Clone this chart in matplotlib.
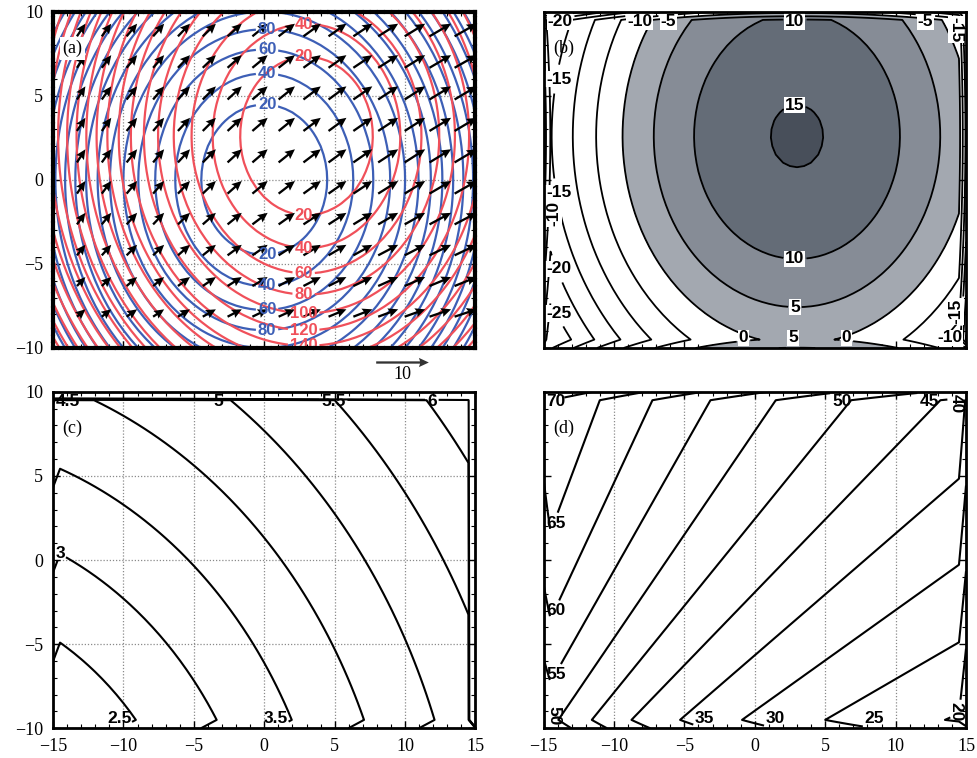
import numpy as np
import matplotlib
matplotlib.use("Agg")
import matplotlib.pyplot as plt
from matplotlib.ticker import MultipleLocator

SERIF = ['Liberation Serif', 'DejaVu Serif']
SANS = ['Liberation Sans', 'DejaVu Sans']
plt.rcParams['font.family'] = SERIF
plt.rcParams['contour.negative_linestyle'] = 'solid'

# model grid, 0.5 spacing, boundary rows/cols included
xg = np.arange(-15.0, 15.01, 0.5)
yg = np.arange(-10.0, 10.01, 0.5)
X, Y = np.meshgrid(xg, yg)

# ---- (a) two bowls and the wind ------------------------------------------
blue_centre = (0.0, 0.0)
blue_coef = 1.0
red_centre = (3.0, 2.6)
red_coef = 0.9
blue_levels = list(range(20, 340, 20))
red_levels = list(range(20, 460, 20))
blue_labels = [(80, 0.2, 8.95), (60, 0.2, 7.74), (40, 0.2, 6.37), (20, 0.2, 4.46),
               (20, 0.2, -4.46), (40, 0.2, -6.37), (60, 0.2, -7.74), (80, 0.2, -8.95)]
red_labels = [(40, 2.8, 9.3), (20, 2.8, 7.3), (20, 2.8, -2.1), (40, 2.8, -4.0),
              (60, 2.8, -5.5), (80, 2.8, -6.7), (100, 2.8, -7.9), (120, 2.8, -8.9),
              (140, 2.8, -9.75)]

wind_x = [-13.0, -11.2, -9.4, -7.5, -5.7, -3.9, -2.1, -0.3,
          1.6, 3.4, 5.2, 7.0, 8.8, 10.7, 12.5, 14.3]
wind_y = [8.9, 7.03, 5.16, 3.29, 1.42, -0.45, -2.31, -4.18, -6.05, -7.92]
wind_u = [1.6, 1.8, 2.0, 2.1, 2.3, 2.5, 2.7, 2.9, 3.1, 3.3, 3.4, 3.6, 3.8, 3.9, 4.1, 4.2]
wind_v = [2.4, 2.4, 2.5, 2.5, 2.5, 2.4, 2.2, 2.0, 1.7, 1.4]
ref_speed = 10

# ---- (b) shaded dome -------------------------------------------------------
b_centre = (3.0, 2.6)
b_peak = 15.35
b_coef = 0.1
b_edge = {'left': 10.0, 'right': -12.0, 'bottom': 5.7, 'top': -12.0}
b_levels = [-30, -25, -20, -15, -10, -5, 0, 5, 10, 15]
b_fill = [0, 5, 10, 15, 30]
b_colors = ['#a3a8b0', '#868c96', '#646c77', '#484f5a']
b_labels = [(15, 2.85, 4.36), (10, 2.85, -4.63), (5, 2.85, -7.6), (10, 2.85, 9.45),
            (0, -0.8, -9.6), (5, 2.7, -9.6), (0, 6.5, -9.6),
            (-10, -8.14, 9.6), (-5, -6.13, 9.6), (-5, 12.1, 9.6),
            (-20, -13.8, 9.45), (-15, -14.2, 6.0), (-15, -14.2, -0.8),
            (-10, -14.6, -2.0, 90), (-20, -14.2, -5.35), (-25, -14.2, -8.0),
            (-15, 14.6, 8.9, -90), (-15, 14.6, -7.8, 90), (-10, 13.85, -9.6)]

# ---- (c) rings about a far point ------------------------------------------
c_centre = (-25.2, -22.9)
c_base = 0.26
c_slope = 0.107
c_edge = {'left': 0.13, 'right': 10.0, 'bottom': 0.13, 'top': 10.0}
c_levels = [2.5, 3.0, 3.5, 4.0, 4.5, 5.0, 5.5, 6.0]
c_labels = [(4.5, -14.17, 9.6), (5.0, -3.27, 9.6), (5.5, 4.9, 9.6), (6.0, 11.9, 9.6),
            (3.0, -14.5, 0.5), (2.5, -11.45, -9.6), (3.5, 0.53, -9.6)]

# ---- (d) fan of rays -------------------------------------------------------
d_centre = (-26.3, -24.7)
d_offset = -0.9
d_edge = {'left': -3.2, 'right': -4.3, 'bottom': 3.0, 'top': 4.0}
d_levels = [20, 25, 30, 35, 40, 45, 50, 55, 60, 65, 70]
d_labels = [(70, -14.3, 9.4), (65, -14.3, 2.17), (60, -14.3, -3.0),
            (55, -14.3, -6.73), (50, -14.5, -9.3, -90), (50, 6.5, 9.6),
            (45, 12.9, 9.6), (40, 14.6, 9.3, -90), (35, -1.97, -9.6),
            (30, 3.1, -9.6), (25, 10.3, -9.6), (20, 14.6, -9.0, -90)]


def with_edges(field, edge):
    z = field.copy()
    z[:, 0] = field[:, 0] + edge['left']
    z[:, -1] = field[:, -1] + edge['right']
    z[0, :] = field[0, :] + edge['bottom']
    z[-1, :] = field[-1, :] + edge['top']
    return z


def style_axes(ax, xlab, ylab, xgrid=True, ygrid=True, dotted_frame=False):
    ax.set_xlim(-15, 15)
    ax.set_ylim(-10, 10)
    ax.xaxis.set_major_locator(MultipleLocator(5))
    ax.yaxis.set_major_locator(MultipleLocator(5))
    ax.xaxis.set_minor_locator(MultipleLocator(1))
    ax.yaxis.set_minor_locator(MultipleLocator(1))
    ax.tick_params(which='both', direction='in', top=True, right=True,
                   labelsize=13, labelbottom=xlab, labelleft=ylab, pad=7)
    ax.tick_params(which='major', length=5, width=1)
    ax.tick_params(which='minor', length=3, width=0.8)
    ax.set_axisbelow(True)
    if xgrid:
        ax.xaxis.grid(True, ls=(0, (1, 1.5)), color='#8a8a8a', lw=0.9)
    if ygrid:
        ax.yaxis.grid(True, ls=(0, (1, 1.5)), color='#8a8a8a', lw=0.9)
    for s in ax.spines.values():
        s.set_linewidth(2.0)
        s.set_zorder(6)
        if dotted_frame:
            s.set_linestyle((0, (1.0, 0.7)))
            s.set_linewidth(3.0)


def keep_inside(ax, t, margin=2.5):
    # nudge a label so that it sits fully inside the frame
    renderer = ax.figure.canvas.get_renderer()
    bb = t.get_window_extent(renderer)
    frame = ax.get_window_extent(renderer)
    dx = max(0.0, frame.x0 + margin - bb.x0) - max(0.0, bb.x1 - (frame.x1 - margin))
    dy = max(0.0, frame.y0 + margin - bb.y0) - max(0.0, bb.y1 - (frame.y1 - margin))
    if dx or dy:
        px, py = ax.transData.transform(t.get_position())
        t.set_position(ax.transData.inverted().transform((px + dx, py + dy)))


def put_labels(ax, cs, spec, size, fmt='%g', boxed=False, inside=True):
    # set up label fonts once, then place each label on its own level
    with plt.rc_context({'font.family': SANS, 'font.weight': 'bold'}):
        cs.clabel(fmt=fmt, fontsize=size, inline=True, inline_spacing=2, manual=[])
    all_levels = list(cs.levels)
    for item in spec:
        lev, lx, ly = item[:3]
        idx = int(np.argmin(np.abs(np.array(all_levels) - lev)))
        cs.labelIndiceList = [idx]
        cs.labelLevelList = [all_levels[idx]] * len(all_levels)
        cs.add_label_near(lx, ly, True, 2)
        t = cs.labelTexts[-1]
        t.set_rotation(item[3] if len(item) > 3 else 0)
        t.set_clip_path(ax.patch)
        t.set_clip_on(True)
        t.set_zorder(5)
        if inside:
            keep_inside(ax, t)
        if boxed:
            t.set_bbox(dict(facecolor='white', edgecolor='none', pad=0.6))


def panel_tag(ax, tag, boxed=False):
    kw = dict(transform=ax.transAxes, fontsize=13, ha='left', va='center', zorder=7)
    if boxed:
        kw['bbox'] = dict(facecolor='white', edgecolor='none', pad=2)
    ax.text(0.022, 0.89, tag, **kw)


W, H = 977.0, 758.0
fig = plt.figure(figsize=(W / 100, H / 100), dpi=100)


def add_panel(left, top):
    return fig.add_axes([left / W, 1 - (top + 336.5) / H, 422.5 / W, 336.5 / H])


ax_a = add_panel(53, 11.5)
ax_b = add_panel(543.5, 11.5)
ax_c = add_panel(53, 391.8)
ax_d = add_panel(543.5, 391.8)
for ax in (ax_a, ax_b, ax_c, ax_d):
    ax.set_xlim(-15, 15)
    ax.set_ylim(-10, 10)

# (a)
blue = blue_coef * ((X - blue_centre[0]) ** 2 + (Y - blue_centre[1]) ** 2)
red = red_coef * ((X - red_centre[0]) ** 2 + (Y - red_centre[1]) ** 2)
cs_blue = ax_a.contour(X, Y, blue, levels=blue_levels, colors='#3d5fb6', linewidths=1.6)
cs_red = ax_a.contour(X, Y, red, levels=red_levels, colors='#f0505a', linewidths=1.6)
put_labels(ax_a, cs_blue, blue_labels, 12, fmt='%d', inside=False)
put_labels(ax_a, cs_red, red_labels, 12, fmt='%d', inside=False)

AX, AY = np.meshgrid(wind_x, wind_y)
U = np.tile(np.array(wind_u), (len(wind_y), 1))
V = np.tile(np.array(wind_v)[:, None], (1, len(wind_x)))
q = ax_a.quiver(AX, AY, U, V, pivot='middle', angles='uv', scale=19,
                scale_units='inches', units='dots', width=2.3, headwidth=4.0,
                headlength=4.3, headaxislength=3.8, color='black', zorder=4)
ax_a.quiverkey(q, 0.827, -0.042, ref_speed, str(ref_speed), labelpos='S',
               coordinates='axes', labelsep=0.04, color='#333333',
               fontproperties={'family': SERIF, 'size': 13})
style_axes(ax_a, False, True, dotted_frame=True)
panel_tag(ax_a, '(a)', boxed=True)

# (b)
b_field = b_peak - b_coef * ((X - b_centre[0]) ** 2 + (Y - b_centre[1]) ** 2)
Zb = with_edges(b_field, b_edge)
ax_b.contourf(X, Y, Zb, levels=b_fill, colors=b_colors)
cs_b = ax_b.contour(X, Y, Zb, levels=b_levels, colors='black', linewidths=1.3,
                    linestyles='solid')
put_labels(ax_b, cs_b, b_labels, 12.5, fmt='%d', boxed=True)
style_axes(ax_b, False, False, xgrid=False, ygrid=False)
panel_tag(ax_b, '(b)')

# (c)
c_field = c_base + c_slope * np.hypot(X - c_centre[0], Y - c_centre[1])
Zc = with_edges(c_field, c_edge)
cs_c = ax_c.contour(X, Y, Zc, levels=c_levels, colors='black', linewidths=1.5)
put_labels(ax_c, cs_c, c_labels, 12.5)
style_axes(ax_c, True, True)
panel_tag(ax_c, '(c)')

# (d)
d_field = np.degrees(np.arctan2(Y - d_centre[1], X - d_centre[0])) + d_offset
Zd = with_edges(d_field, d_edge)
cs_d = ax_d.contour(X, Y, Zd, levels=d_levels, colors='black', linewidths=1.5)
put_labels(ax_d, cs_d, d_labels, 12.5, fmt='%d')
style_axes(ax_d, True, False, ygrid=False)
panel_tag(ax_d, '(d)')

fig.savefig('out.png', dpi=100)
